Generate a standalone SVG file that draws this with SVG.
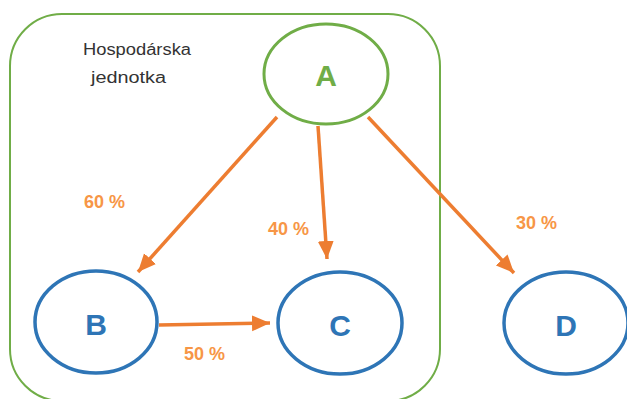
<svg xmlns="http://www.w3.org/2000/svg" width="627" height="399" viewBox="0 0 627 399">
<style>
.blue{fill:#fff;stroke:#2E75B6;stroke-width:3.5}
.lbl{font-family:"Liberation Sans",Arial,sans-serif;font-weight:bold;font-size:30px;text-anchor:middle;dominant-baseline:central}
.pct{font-family:"Liberation Sans",Arial,sans-serif;font-weight:bold;font-size:18px;fill:#F79646}
.arr{stroke:#ED7D31;stroke-width:3.5;fill:none;marker-end:url(#ah)}
</style>
<defs>
<marker id="ah" markerUnits="userSpaceOnUse" markerWidth="20" markerHeight="18" refX="18" refY="9" orient="auto" viewBox="0 0 20 18">
<path d="M0,1 L18,9 L0,17 z" fill="#ED7D31"/>
</marker>
</defs>
<g id="container">
<rect x="10" y="14" width="430" height="387" rx="52" ry="52" fill="none" stroke="#70AD47" stroke-width="2"/>
<text x="83" y="55" font-family="'Liberation Sans',Arial,sans-serif" font-size="16" fill="#333" textLength="108" lengthAdjust="spacingAndGlyphs">Hospodárska</text>
<text x="91" y="83" font-family="'Liberation Sans',Arial,sans-serif" font-size="16" fill="#333" textLength="75" lengthAdjust="spacingAndGlyphs">jednotka</text>
</g>
<g id="connectors">
<line class="arr" x1="277" y1="117" x2="138" y2="272"/>
<line class="arr" x1="318" y1="126" x2="327" y2="259"/>
<line class="arr" x1="368" y1="117" x2="514" y2="273"/>
<line class="arr" x1="159" y1="325" x2="270" y2="323"/>
<text class="pct" x="84" y="208">60 %</text>
<text class="pct" x="268" y="235">40 %</text>
<text class="pct" x="516" y="229">30 %</text>
<text class="pct" x="184" y="360">50 %</text>
</g>
<g id="node-A">
<ellipse cx="326" cy="74" rx="62" ry="50" fill="#fff" stroke="#70AD47" stroke-width="3"/>
<text class="lbl" x="326" y="75" fill="#70AD47">A</text>
</g>
<g id="node-B">
<ellipse class="blue" cx="96" cy="322" rx="61" ry="51"/>
<text class="lbl" x="96" y="324" fill="#2E75B6">B</text>
</g>
<g id="node-C">
<ellipse class="blue" cx="340" cy="323" rx="62" ry="51"/>
<text class="lbl" x="340" y="325" fill="#2E75B6">C</text>
</g>
<g id="node-D">
<ellipse class="blue" cx="566" cy="323" rx="62" ry="51"/>
<text class="lbl" x="566" y="325" fill="#2E75B6">D</text>
</g>
</svg>
